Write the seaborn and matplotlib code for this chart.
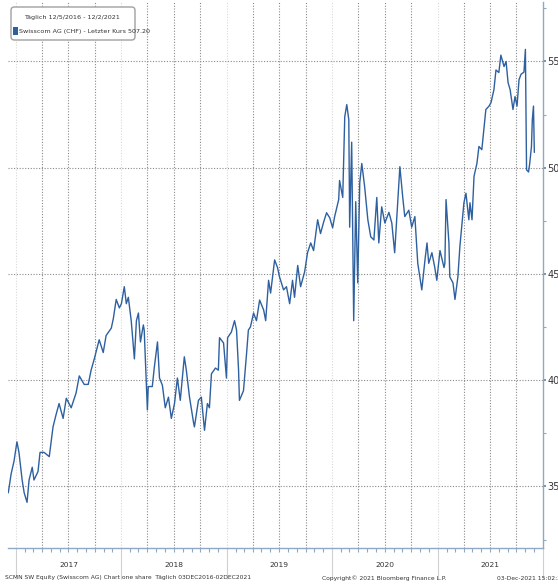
import matplotlib
matplotlib.use("Agg")
import matplotlib.pyplot as plt
import matplotlib.dates as mdates
import matplotlib.transforms as mtransforms
from matplotlib.ticker import MultipleLocator, FixedLocator, NullFormatter
from matplotlib.patches import FancyBboxPatch, Rectangle
import seaborn as sns
import pandas as pd

# ---------------- data ----------------
dates = [
    "2016-12-05", "2016-12-15", "2016-12-25", "2017-01-04", "2017-01-11", "2017-01-22",
    "2017-01-29", "2017-02-08", "2017-02-15", "2017-02-26", "2017-03-04", "2017-03-18",
    "2017-03-25", "2017-04-08", "2017-04-26", "2017-05-09", "2017-05-20", "2017-05-30",
    "2017-06-13", "2017-06-24", "2017-07-11", "2017-07-28", "2017-08-08", "2017-08-25",
    "2017-09-08", "2017-09-18", "2017-09-29", "2017-10-16", "2017-10-30", "2017-11-09",
    "2017-11-27", "2017-12-04", "2017-12-14", "2017-12-25", "2018-01-01", "2018-01-11",
    "2018-01-18", "2018-01-25", "2018-02-04", "2018-02-15", "2018-02-22", "2018-03-01",
    "2018-03-08", "2018-03-18", "2018-03-21", "2018-03-28", "2018-04-01", "2018-04-04",
    "2018-04-18", "2018-04-25", "2018-05-06", "2018-05-13", "2018-05-23", "2018-06-02",
    "2018-06-13", "2018-06-23", "2018-07-04", "2018-07-14", "2018-07-24", "2018-08-07",
    "2018-08-14", "2018-08-25", "2018-09-08", "2018-09-11", "2018-09-25", "2018-10-05",
    "2018-10-16", "2018-10-26", "2018-11-02", "2018-11-09", "2018-11-23", "2018-12-03",
    "2018-12-07", "2018-12-21", "2018-12-31", "2019-01-04", "2019-01-17", "2019-01-28",
    "2019-02-04", "2019-02-11", "2019-02-14", "2019-02-28", "2019-03-11", "2019-03-17",
    "2019-03-24", "2019-04-04", "2019-04-14", "2019-04-25", "2019-05-09", "2019-05-16",
    "2019-05-26", "2019-06-02", "2019-06-16", "2019-06-26", "2019-07-03", "2019-07-17",
    "2019-07-27", "2019-08-07", "2019-08-17", "2019-08-24", "2019-09-04", "2019-09-14",
    "2019-09-28", "2019-10-08", "2019-10-19", "2019-10-29", "2019-11-12", "2019-11-22",
    "2019-12-03", "2019-12-13", "2019-12-24", "2020-01-03", "2020-01-10", "2020-01-24",
    "2020-01-27", "2020-02-07", "2020-02-14", "2020-02-21", "2020-02-28", "2020-03-02",
    "2020-03-09", "2020-03-16", "2020-03-23", "2020-03-30", "2020-04-06", "2020-04-13",
    "2020-04-23", "2020-05-04", "2020-05-14", "2020-05-25", "2020-06-04", "2020-06-11",
    "2020-06-21", "2020-07-02", "2020-07-16", "2020-07-26", "2020-08-05", "2020-08-16",
    "2020-08-23", "2020-09-02", "2020-09-09", "2020-09-23", "2020-10-03", "2020-10-14",
    "2020-10-24", "2020-10-31", "2020-11-07", "2020-11-18", "2020-11-25", "2020-12-01",
    "2020-12-12", "2020-12-22", "2020-12-29", "2021-01-09", "2021-01-23", "2021-01-26",
    "2021-01-30", "2021-02-09", "2021-02-12", "2021-02-23", "2021-03-02", "2021-03-12",
    "2021-03-19", "2021-04-02", "2021-04-09", "2021-04-19", "2021-04-23", "2021-04-30",
    "2021-05-07", "2021-05-17", "2021-05-24", "2021-06-03", "2021-06-10", "2021-06-17",
    "2021-06-28", "2021-07-05", "2021-07-15", "2021-07-22", "2021-08-01", "2021-08-08",
    "2021-08-19", "2021-08-26", "2021-09-02", "2021-09-09", "2021-09-19", "2021-09-26",
    "2021-10-03", "2021-10-10", "2021-10-17", "2021-10-27", "2021-11-01", "2021-11-05",
    "2021-11-12", "2021-11-16", "2021-11-22", "2021-11-25", "2021-11-29", "2021-12-01",
    "2021-12-02",
]
prices = [
    347, 356, 362, 371, 366, 353,
    347, 342.5, 353, 359, 353, 357,
    366, 366, 364, 378, 384, 389,
    382, 391.5, 387, 394, 402, 398,
    398, 404.7, 410, 419, 413, 421,
    424.5, 429, 438, 434, 436, 444,
    436, 439, 428, 410, 428, 431.6,
    418, 426, 423.6, 400, 386, 397,
    397, 406, 418, 401, 397.6, 387,
    392, 382, 389, 401, 390.5, 411,
    404.7, 392, 380, 378, 390.5, 392,
    376.4, 389, 387, 403, 405.7, 404.7,
    420, 417.5, 401, 420, 422.6, 428,
    423.6, 404.7, 390.5, 395, 413, 423.6,
    425, 431.6, 428, 437.7, 433, 428,
    447, 441, 456.6, 453, 448.6, 442.5,
    444, 436, 447, 439, 454, 444,
    451, 460, 464.6, 461, 475.5, 469,
    474.5, 478.8, 476.4, 471.7, 477, 485,
    494, 486, 524, 529.7, 522.6, 472,
    512, 428, 484, 445.8, 493, 502,
    491, 475.5, 467.5, 466, 486, 464.6,
    481.6, 474, 479, 474, 460, 485,
    500.5, 486, 477, 480, 472, 477,
    455, 448.6, 442.5, 456.6, 464.6, 455,
    460, 453, 447, 461, 453, 455,
    485, 464.6, 448.6, 445.8, 438, 448.6,
    463, 483.5, 488, 475.5, 483.5, 475.5,
    496, 502, 510, 508.5, 518, 527.4,
    529, 530.7, 536.8, 546, 544.8, 553,
    547.6, 550, 540, 536.8, 527.4, 533.5,
    529, 541.5, 544, 545, 555.7, 499,
    498, 502, 510, 522.6, 529, 513,
    507.2,
]
year_labels = ["2017", "2018", "2019", "2020", "2021"]
y_ticks = [350, 400, 450, 500, 550]
series_name = "Swisscom AG (CHF) - Letzter Kurs 507.20"
legend_title = "T\u00e4glich 12/5/2016 - 12/2/2021"
footer_left = "SCMN SW Equity (Swisscom AG) Chart one share  T\u00e4glich 03DEC2016-02DEC2021"
footer_mid = "Copyright\u00a9 2021 Bloomberg Finance L.P."
footer_right = "03-Dec-2021 15:02:37"

# ---------------- style ----------------
sns.set_style("white")
plt.rcParams["font.family"] = ["Liberation Sans Narrow", "DejaVu Sans"]

LINE = "#2e60a0"
AXC = "#8fa9c4"
GRID = "#8a8a8a"
TXT = "#333333"
SMALL = 4.3
LEG = 4.6

fig = plt.figure(figsize=(5.58, 5.85), dpi=100)
fig.patch.set_facecolor("white")
ax = fig.add_axes([8 / 558, 1 - 548 / 585, 535 / 558, 546 / 585])

df = pd.DataFrame({"date": pd.to_datetime(dates), "price": prices})
sns.lineplot(data=df, x="date", y="price", ax=ax, color=LINE, lw=1.0, zorder=3)

ax.set_xlim(pd.Timestamp("2016-12-04"), pd.Timestamp("2022-01-01"))
ax.set_ylim(321, 578)
ax.set_xlabel("")
ax.set_ylabel("")

# spines
for s in ["left", "top"]:
    ax.spines[s].set_visible(False)
for s in ["right", "bottom"]:
    ax.spines[s].set_visible(True)
    ax.spines[s].set_color(AXC)
    ax.spines[s].set_linewidth(1.0)

# y axis on the right
ax.yaxis.tick_right()
ax.set_yticks(y_ticks)
ax.set_yticklabels([str(v) for v in y_ticks])
ax.yaxis.set_minor_locator(MultipleLocator(25))
ax.tick_params(axis="y", which="major", direction="out", length=2.5, width=1.2,
               color="#5f7f9f", labelsize=7, pad=0.6, labelcolor=TXT, right=True, left=False)
ax.tick_params(axis="y", which="minor", direction="out", length=2, width=0.8,
               color=AXC, right=True, left=False)
ax.grid(axis="y", which="major", linestyle=(0, (1, 1.5)), color=GRID, lw=0.8)
ax.grid(axis="x", visible=False)

# x axis: year separators (major) and monthly ticks (minor)
year_starts = pd.to_datetime([f"{y}-01-01" for y in year_labels] + ["2022-01-01"])
ax.xaxis.set_major_locator(FixedLocator(mdates.date2num(year_starts)))
ax.xaxis.set_major_formatter(NullFormatter())
ax.xaxis.set_minor_locator(mdates.MonthLocator())
ax.tick_params(axis="x", which="major", direction="out", length=22, width=0.8,
               color="#d0d0d0", bottom=True)
ax.tick_params(axis="x", which="minor", direction="out", length=3, width=0.8,
               color=AXC, bottom=True)

# quarterly vertical dotted grid lines
for q in pd.date_range("2017-01-01", "2021-12-31", freq="QS"):
    col = "#d8d8d8" if q.month == 1 else GRID
    ax.axvline(q, color=col, lw=0.8, linestyle=(0, (1, 1.5)), zorder=1)

# year labels centred in each year
trans = mtransforms.blended_transform_factory(ax.transData, ax.transAxes)
for y in year_labels:
    mid = pd.Timestamp(f"{y}-07-02")
    ax.text(mid, -0.031, y, transform=trans, ha="center", va="center",
            fontsize=5.4, color=TXT)

# legend box
box = FancyBboxPatch((11 / 558, 1 - 40 / 585), 124 / 558, 33 / 585,
                     boxstyle="round,pad=0,rounding_size=0.006",
                     transform=fig.transFigure, facecolor="white",
                     edgecolor="#a0a0a0", lw=1.0, zorder=10)
fig.patches.append(box)
fig.text(72 / 558, 1 - 17 / 585, legend_title, ha="center", va="center",
         fontsize=LEG, color=TXT, zorder=11)
sq = Rectangle((13 / 558, 1 - 35 / 585), 4.5 / 558, 8 / 585,
               transform=fig.transFigure, facecolor=LINE, edgecolor="none", zorder=11)
fig.patches.append(sq)
fig.text(19 / 558, 1 - 31 / 585, series_name, ha="left", va="center",
         fontsize=LEG, color=TXT, zorder=11)

# footer
fig.text(5 / 558, 1 - 578 / 585, footer_left, ha="left", va="center", fontsize=SMALL, color=TXT)
fig.text(322 / 558, 1 - 578 / 585, footer_mid, ha="left", va="center", fontsize=SMALL, color=TXT)
fig.text(497 / 558, 1 - 578 / 585, footer_right, ha="left", va="center", fontsize=SMALL, color=TXT)

fig.savefig("out.png", dpi=100, facecolor="white")
